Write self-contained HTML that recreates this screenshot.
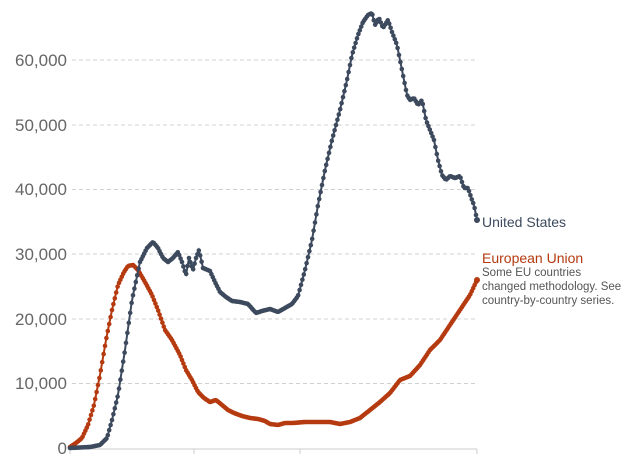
<!DOCTYPE html>
<html><head><style>
body{margin:0;background:#fff;}
svg{display:block;font-family:"Liberation Sans",sans-serif;}
</style></head><body>
<svg id="c" width="638" height="459" viewBox="0 0 638 459">
<g stroke="#d0d0d0" stroke-dasharray="4,3" stroke-width="1">
<line x1="72" x2="477" y1="383.5" y2="383.5"/>
<line x1="72" x2="477" y1="319" y2="319"/>
<line x1="72" x2="477" y1="254" y2="254"/>
<line x1="72" x2="477" y1="189.5" y2="189.5"/>
<line x1="72" x2="477" y1="125" y2="125"/>
<line x1="72" x2="477" y1="60" y2="60"/>
</g>
<line x1="70" x2="477" y1="449" y2="449" stroke="#ccc"/>
<g stroke="#ccc"><line x1="70" x2="70" y1="449" y2="454"/><line x1="194" x2="194" y1="449" y2="454"/><line x1="300" x2="300" y1="449" y2="454"/><line x1="477" x2="477" y1="449" y2="454"/></g>
<g fill="#666" font-size="17" text-anchor="end">
<text x="67" y="454">0</text>
<text x="67" y="389">10,000</text>
<text x="67" y="325">20,000</text>
<text x="67" y="260">30,000</text>
<text x="67" y="195">40,000</text>
<text x="67" y="131">50,000</text>
<text x="67" y="66">60,000</text>
</g>
<g id="series"></g>
<text x="482" y="227" font-size="14" fill="#3d4a5e">United States</text>
<text x="482" y="263" font-size="14" fill="#b53a10">European Union</text>
<g font-size="11.5" fill="#555">
<text x="482" y="276">Some EU countries</text>
<text x="482" y="290">changed methodology. See</text>
<text x="482" y="304">country-by-country series.</text>
</g>
</svg>
<script>
var US=[[70,448],[90,447],[100,445],[107,438],[112,420],[118,395],[125,350],[132,300],[140,262],[147,248],[153,242],[158,248],[163,258],[168,262],[173,258],[178,252],[182,262],[186,275],[189,258],[193,270],[196,258],[199,250],[203,268],[210,271],[215,282],[220,292],[226,297],[232,301],[240,302],[248,304],[256,313],[262,311],[270,309],[278,312],[285,308],[292,304],[298,296],[305,270],[312,240],[318,205],[325,170],[332,140],[340,110],[347,80],[352,55],[358,35],[363,22],[368,15],[372,13],[375,25],[379,18],[383,28],[388,20],[392,32],[397,45],[400,60],[403,75],[407,95],[410,100],[414,98],[418,105],[422,100],[426,120],[430,130],[434,140],[438,160],[442,175],[446,180],[450,176],[455,178],[460,176],[464,188],[468,188],[472,200],[474,205],[477,220]];
var EU=[[70,447],[76,443],[82,438],[88,425],[94,405],[100,375],[106,340],[112,310],[118,285],[124,272],[128,266],[133,265],[138,270],[145,282],[152,295],[158,310],[165,330],[172,340],[180,355],[186,370],[192,380],[198,392],[204,398],[210,402],[216,400],[222,405],[228,410],[234,413],[242,416],[250,418],[258,419],[265,421],[270,424],[278,425],[285,423],[293,423],[305,422],[320,422],[330,422],[340,424],[350,422],[360,418],[370,410],[380,402],[390,393],[400,380],[410,376],[420,365],[430,350],[440,340],[450,325],[460,310],[470,295],[477,280]];
function interp(p,x){for(var i=1;i<p.length;i++){if(x<=p[i][0]){var a=p[i-1],b=p[i],t=(x-a[0])/(b[0]-a[0]||1);return a[1]+t*(b[1]-a[1]);}}return p[p.length-1][1];}
var g=document.getElementById('series'),ns='http://www.w3.org/2000/svg';
function draw(p,col){var pts=[],s='';for(var x=70;x<=477.01;x+=1.4){var y=interp(p,x);pts.push([x,y]);s+=x.toFixed(1)+','+y.toFixed(1)+' ';}
var pl=document.createElementNS(ns,'polyline');pl.setAttribute('points',s);pl.setAttribute('fill','none');pl.setAttribute('stroke',col);pl.setAttribute('stroke-width','2');g.appendChild(pl);
pts.forEach(function(q){var c=document.createElementNS(ns,'circle');c.setAttribute('cx',q[0]);c.setAttribute('cy',q[1]);c.setAttribute('r','2.3');c.setAttribute('fill',col);g.appendChild(c);});
var c=document.createElementNS(ns,'circle');c.setAttribute('cx',477);c.setAttribute('cy',interp(p,477));c.setAttribute('r','3');c.setAttribute('fill',col);g.appendChild(c);}
draw(EU,'#b53a10');draw(US,'#3d4a5e');
</script>
</body></html>
